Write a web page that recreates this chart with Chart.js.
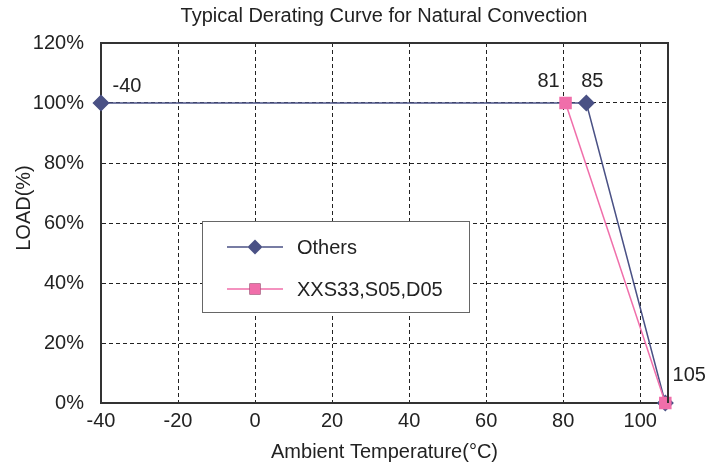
<!DOCTYPE html>
<html>
<head>
<meta charset="utf-8">
<script src="https://cdn.jsdelivr.net/npm/chart.js@4/dist/chart.umd.min.js"></script>
<style>
  html, body { margin: 0; padding: 0; background: #fff; }
  #wrap { width: 710px; height: 466px; position: relative; }
</style>
</head>
<body>
<div id="wrap"><canvas id="derating"></canvas></div>
<script>
// data
const xTicks = [-40, -20, 0, 20, 40, 60, 80, 100];
const yTicks = [0, 20, 40, 60, 80, 100, 120];
const othersX = [-40, 86, 106.5];
const othersY = [100, 100, 0];
const xxsX = [80.6, 106.5];
const xxsY = [100, 0];
const pointLabels = ["-40", "85", "105", "81"];
const seriesNames = ["Others", "XXS33,S05,D05"];

const FONT = "'Liberation Sans', Arial, sans-serif";
const BLUE = "#4a5185";
const PINK = "#f06eaa";

// label offsets (px) from each point
const labelOffsets = [[26, -17], [6, -22], [24, -28], [-17, -22]];

const boxPlugin = {
  id: "boxAndText",
  afterDraw(chart) {
    const ctx = chart.ctx;
    const a = chart.chartArea;
    ctx.save();
    // frame top/right
    ctx.strokeStyle = "#333";
    ctx.lineWidth = 2;
    ctx.beginPath();
    ctx.moveTo(a.left, a.top);
    ctx.lineTo(a.right, a.top);
    ctx.lineTo(a.right, a.bottom);
    ctx.stroke();

    // title
    ctx.fillStyle = "#222";
    ctx.font = "20px " + FONT;
    ctx.textAlign = "center";
    ctx.textBaseline = "middle";
    ctx.fillText("Typical Derating Curve for Natural Convection", 384, 16);

    // y title
    ctx.save();
    ctx.translate(24, 208);
    ctx.rotate(-Math.PI / 2);
    ctx.fillText("LOAD(%)", 0, 0);
    ctx.restore();

    // point labels
    const xs = chart.scales.x, ys = chart.scales.y;
    const pts = [[othersX[0], othersY[0]], [othersX[1], othersY[1]], [othersX[2], othersY[2]], [xxsX[0], xxsY[0]]];
    pts.forEach((p, i) => {
      const px = xs.getPixelForValue(p[0]) + labelOffsets[i][0];
      const py = ys.getPixelForValue(p[1]) + labelOffsets[i][1];
      ctx.fillText(pointLabels[i], px, py);
    });

    // legend box
    const lx = 202, ly = 221, lw = 267, lh = 91;
    ctx.fillStyle = "#fff";
    ctx.fillRect(lx, ly, lw, lh);
    ctx.strokeStyle = "#666";
    ctx.lineWidth = 1;
    ctx.strokeRect(lx + 0.5, ly + 0.5, lw, lh);
    chart.data.datasets.forEach((ds, i) => {
      const y = [247, 289][i];
      ctx.strokeStyle = ds.borderColor;
      ctx.lineWidth = 1.5;
      ctx.beginPath();
      ctx.moveTo(227, y);
      ctx.lineTo(283, y);
      ctx.stroke();
      Chart.helpers.drawPoint(ctx, {
        pointStyle: ds.pointStyle, radius: ds.pointRadius, borderWidth: 0, rotation: 0
      }, 255, y);
      ctx.fillStyle = ds.pointBackgroundColor;
      ctx.fill();
      ctx.fillStyle = "#222";
      ctx.textAlign = "left";
      ctx.font = "20px " + FONT;
      ctx.fillText(ds.label, 297, y + 1);
    });
    ctx.restore();
  }
};

new Chart(document.getElementById("derating"), {
  type: "line",
  data: {
    datasets: [
      {
        label: seriesNames[0],
        data: othersX.map((x, i) => ({ x: x, y: othersY[i] })),
        borderColor: BLUE,
        backgroundColor: BLUE,
        pointBackgroundColor: BLUE,
        pointBorderColor: BLUE,
        pointStyle: "rectRot",
        pointRadius: 7.5,
        borderWidth: 1.5,
        clip: false,
        order: 2
      },
      {
        label: seriesNames[1],
        data: xxsX.map((x, i) => ({ x: x, y: xxsY[i] })),
        borderColor: PINK,
        backgroundColor: PINK,
        pointBackgroundColor: PINK,
        pointBorderColor: PINK,
        pointStyle: "rect",
        pointRadius: 7.8,
        borderWidth: 1.5,
        clip: false,
        order: 1
      }
    ]
  },
  options: {
    responsive: true,
    maintainAspectRatio: false,
    animation: false,
    layout: { padding: { top: 43, right: 42, left: 0, bottom: 0 } },
    plugins: { legend: { display: false }, tooltip: { enabled: false } },
    scales: {
      x: {
        type: "linear",
        min: -40,
        max: 107.2,
        afterBuildTicks: s => { s.ticks = xTicks.map(v => ({ value: v })); },
        afterFit: s => { s.height = 63; },
        ticks: { font: { family: FONT, size: 20 }, color: "#222", padding: 6, maxRotation: 0 },
        grid: { color: "#222", lineWidth: 1, drawTicks: false },
        border: { color: "#333", width: 2, dash: [4, 3] },
        title: { display: true, text: "Ambient Temperature(°C)", font: { family: FONT, size: 20 }, color: "#222", padding: { top: 0, bottom: 2 } }
      },
      y: {
        min: 0,
        max: 120,
        afterBuildTicks: s => { s.ticks = yTicks.map(v => ({ value: v })); },
        afterFit: s => { s.width = 101; },
        ticks: { font: { family: FONT, size: 20 }, color: "#222", padding: 17, callback: v => v + "%" },
        grid: { color: "#222", lineWidth: 1, drawTicks: false },
        border: { color: "#333", width: 2, dash: [4, 3] }
      }
    }
  },
  plugins: [boxPlugin]
});
</script>
</body>
</html>
